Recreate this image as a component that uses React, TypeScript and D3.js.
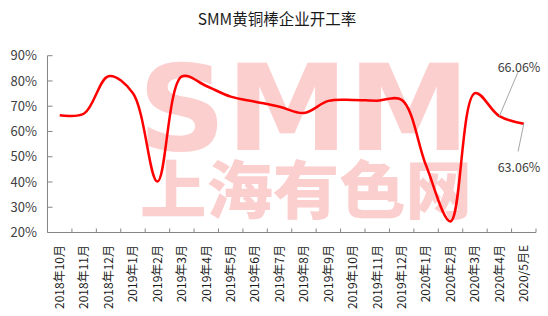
import React from "react";
import * as d3 from "d3";

const categories = [
  "2018年10月", "2018年11月", "2018年12月", "2019年1月", "2019年2月", "2019年3月",
  "2019年4月", "2019年5月", "2019年6月", "2019年7月", "2019年8月", "2019年9月",
  "2019年10月", "2019年11月", "2019年12月", "2020年1月", "2020年2月", "2020年3月",
  "2020年4月", "2020/5月E",
];
const rates = [
  66.4, 67.1, 81.9, 75.1, 40.2, 81.8, 78.0, 73.8, 71.8, 69.8, 67.3, 72.1,
  72.5, 72.2, 72.5, 46.5, 24.4, 75.2, 66.06, 63.06,
];
const yTicks = [20, 30, 40, 50, 60, 70, 80, 90];
const labeled = [
  { index: 18, text: "66.06%", dx: 18.6, dy: -44, ty: -49 },
  { index: 19, text: "63.06%", dx: -5.7, dy: 27.7, ty: 44 },
];

const W = 548;
const H = 316;
const FONT = "'Noto Sans CJK SC', 'Noto Sans', sans-serif";

export default function App() {
  const x = d3.scaleBand<string>().domain(categories).range([47.5, 536]);
  const y = d3.scaleLinear().domain([20, 90]).range([232.5, 55.7]);
  const px = (i: number) => (x(categories[i]) as number) + x.bandwidth() / 2;
  const line = d3
    .line<number>()
    .x((_, i) => px(i))
    .y((d) => y(d))
    .curve(d3.curveCatmullRom.alpha(0.5));
  const path = line(rates) || "";
  const axisColor = "#868686";

  return (
    <svg
      width={W}
      height={H}
      style={{ position: "absolute", left: 0, top: 0, background: "#fff" }}
    >
      <text
        x={277}
        y={25}
        textAnchor="middle"
        fontFamily={FONT}
        fontSize={15.5}
        fill="#1a1a1a"
      >
        SMM黄铜棒企业开工率
      </text>

      {/* watermark */}
      <g fill="#fccfcf">
        <text
          x={138}
          y={150}
          fontFamily="'DejaVu Sans', 'Liberation Sans', sans-serif"
          fontWeight={700}
          fontSize={120}
          textLength={332}
          lengthAdjust="spacingAndGlyphs"
        >
          SMM
        </text>
        <text
          x={140}
          y={213}
          fontFamily={FONT}
          fontWeight={900}
          fontSize={63}
          textLength={332}
          lengthAdjust="spacingAndGlyphs"
        >
          上海有色网
        </text>
      </g>

      {/* y axis */}
      <line x1={47.5} x2={47.5} y1={y(90)} y2={y(20)} stroke={axisColor} />
      {yTicks.map((t) => (
        <g key={t}>
          <line x1={47.5} x2={52.5} y1={y(t)} y2={y(t)} stroke={axisColor} />
          <text
            x={37}
            y={y(t)}
            dy="0.36em"
            textAnchor="end"
            fontFamily={FONT}
            fontSize={13}
            fill="#404040"
          >
            {t}%
          </text>
        </g>
      ))}

      {/* x axis */}
      <line x1={47.5} x2={536} y1={y(20)} y2={y(20)} stroke={axisColor} />
      {categories.map((c) => (
        <line
          key={"t" + c}
          x1={(x(c) as number) + x.bandwidth()}
          x2={(x(c) as number) + x.bandwidth()}
          y1={y(20)}
          y2={y(20) - 4}
          stroke={axisColor}
        />
      ))}
      {categories.map((c, i) => (
        <text
          key={c}
          transform={`translate(${px(i)},245) rotate(-90)`}
          dy="0.36em"
          textAnchor="end"
          fontFamily={FONT}
          fontSize={12}
          fill="#1a1a1a"
        >
          {c}
        </text>
      ))}

      <path d={path} fill="none" stroke="#ff0000" strokeWidth={2.5} />

      {labeled.map((l) => {
        const cx = px(l.index);
        const cy = y(rates[l.index]);
        return (
          <g key={l.text}>
            <line
              x1={cx}
              y1={cy}
              x2={cx + l.dx}
              y2={cy + l.dy}
              stroke="#a6a6a6"
              strokeWidth={1}
            />
            <text
              x={519}
              y={cy + l.ty}
              dy="0.36em"
              textAnchor="middle"
              fontFamily={FONT}
              fontSize={12.5}
              fill="#404040"
            >
              {l.text}
            </text>
          </g>
        );
      })}
    </svg>
  );
}
